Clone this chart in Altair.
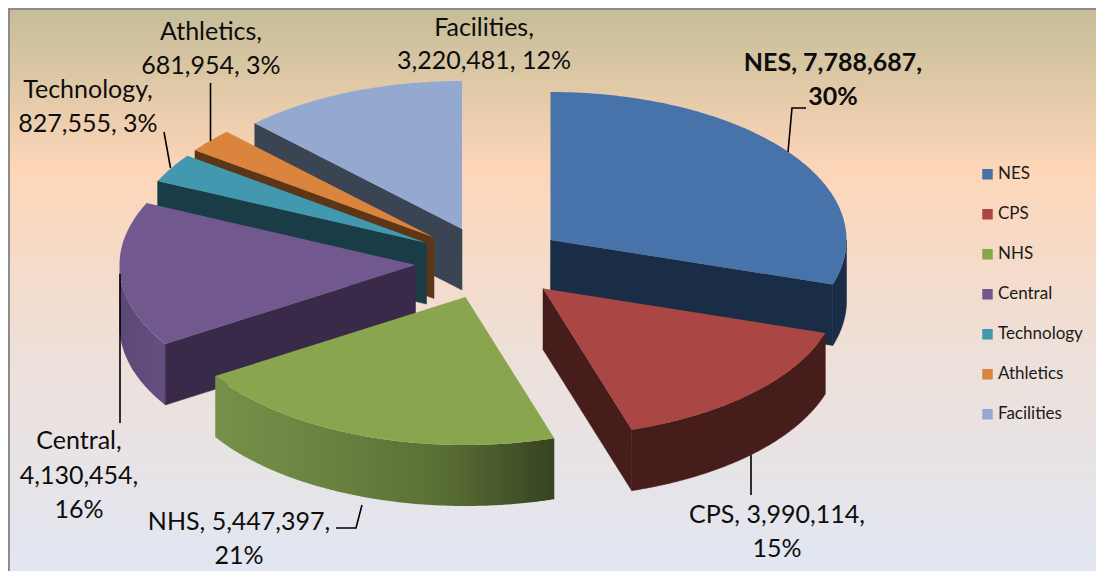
import math
import altair as alt

# ---- data ----
names = ["NES", "CPS", "NHS", "Central", "Technology", "Athletics", "Facilities"]
values = [7788687, 3990114, 5447397, 4130454, 827555, 681954, 3220481]
percents = [30, 15, 21, 16, 3, 3, 12]

# ---- styles ----
top_colors = ["#4773AA", "#AA4644", "#89A54E", "#71588F", "#4198AF", "#DB843D", "#93A9CF"]
wall_colors = ["#1A2D47", "#471D1B", "#5F7538", "#3A2A49", "#1A3C46", "#5C3617", "#3B4453"]
outer_gradients = {
    "NHS": ["#76914A", "#6A8240", "#5A6F35", "#374321"],
    "Central": ["#5C4876", "#65507F"],
}
FONT = "Lato"
OFF = 8  # page margin: layout below is in page pixels

# ---- layout (page pixels) ----
apex = {
    "NES": (550.5, 240), "CPS": (543, 288.5), "NHS": (465.5, 297),
    "Central": (415.5, 265), "Technology": (426.5, 243),
    "Athletics": (434, 237.5), "Facilities": (462, 229),
}
RX, RY, DEPTH = 296, 148, 61
draw_order = ["NES", "Facilities", "Athletics", "Technology", "Central", "NHS", "CPS"]

label_lines = [
    (["Facilities,", "3,220,481, 12%"], 484, [28, 61], False),
    (["Athletics,", "681,954, 3%"], 211, [32, 66], False),
    (["Technology,", "827,555, 3%"], 88, [90, 124], False),
    (["NES, 7,788,687,", "30%"], 833, [63, 97], True),
    (["CPS, 3,990,114,", "15%"], 777, [515, 549], False),
    (["NHS, 5,447,397,", "21%"], 239, [522, 556], False),
    (["Central,", "4,130,454,", "16%"], 79, [441, 476, 510], False),
]
leaders = [
    [(210.5, 83), (210.5, 141)],
    [(164, 132), (170.5, 168)],
    [(806, 108), (792, 108), (788, 152)],
    [(751, 455), (751, 495)],
    [(120, 274), (120, 423)],
    [(336, 528), (356, 528), (362, 505)],
]


def pt(x, y):
    return [x - OFF, y - OFF]


def feature(coords, name="", kind="Polygon"):
    c = [pt(*p) for p in coords]
    if kind == "Polygon":
        c = [c + [c[0]]]
    return {"type": "Feature", "properties": {"name": name},
            "geometry": {"type": kind, "coordinates": c}}


def rim(cx, cy, a, dy=0):
    r = math.radians(a)
    return (cx + RX * math.sin(r), cy - RY * math.cos(r) + dy)


def arc(cx, cy, a0, a1, dy=0):
    n = max(2, int(abs(a1 - a0) * 2))
    return [rim(cx, cy, a0 + (a1 - a0) * i / n, dy) for i in range(n + 1)]


projection = alt.Projection(type="identity", scale=1, translate=[0, 0])
total = sum(values)
color_scale = alt.Scale(domain=names, range=top_colors)
legend = alt.Legend(
    title=None, orient="none", legendX=979 - OFF, legendY=164.5 - OFF, padding=0,
    symbolType="square", symbolSize=110, symbolStrokeWidth=0, symbolOffset=0,
    labelFont=FONT, labelFontSize=17, labelColor="#1a1a1a", labelOffset=2,
    rowPadding=20, clipHeight=19.7, symbolLimit=0,
)

layers = []

# background panel and frame
panel = feature([(8, 4), (1110, 4), (1110, 579), (8, 579)])
layers.append(alt.Chart(alt.Data(values=[panel])).mark_geoshape(
    strokeWidth=0,
    fill={"gradient": "linear", "x1": 0, "y1": 0, "x2": 0, "y2": 1, "stops": [
        {"offset": 0, "color": "#C4BC97"},
        {"offset": 0.29, "color": "#FDD6B8"},
        {"offset": 0.62, "color": "#EDE0DA"},
        {"offset": 1, "color": "#E1E7F3"},
    ]}))
frame = feature([(9, 579), (9, 9), (1110, 9)], kind="LineString")
layers.append(alt.Chart(alt.Data(values=[frame])).mark_geoshape(
    filled=False, stroke="#8C8C8C", strokeWidth=2))

# slices
angles = {}
start = 0.0
for n, v in zip(names, values):
    angles[n] = (start, start + 360.0 * v / total)
    start += 360.0 * v / total

for n in draw_order:
    a0, a1 = angles[n]
    cx, cy = apex[n]
    i = names.index(n)
    wall = wall_colors[i]
    # outer wall, the part turned to the viewer
    lo, hi = max(a0, 90), min(a1, 270)
    if hi > lo:
        poly = arc(cx, cy, lo, hi) + arc(cx, cy, hi, lo, DEPTH)
        grad = outer_gradients.get(n)
        if grad:
            fill = {"gradient": "linear", "x1": 0, "y1": 0, "x2": 1, "y2": 0,
                    "stops": [{"offset": k / (len(grad) - 1), "color": c}
                              for k, c in enumerate(grad)]}
            mark = alt.Chart(alt.Data(values=[feature(poly)])).mark_geoshape(fill=fill, strokeWidth=0)
        else:
            mark = alt.Chart(alt.Data(values=[feature(poly)])).mark_geoshape(
                fill=wall, stroke=wall, strokeWidth=0.5)
        layers.append(mark)
    # radial walls that face the viewer
    for a, sign in ((a0, -90), (a1, 90)):
        if -math.cos(math.radians(a + sign)) > 0.001:
            e = rim(cx, cy, a)
            e2 = (e[0], e[1] + DEPTH)
            quad = [(cx, cy), e, e2, (cx, cy + DEPTH)]
            layers.append(alt.Chart(alt.Data(values=[feature(quad)])).mark_geoshape(
                fill=wall, stroke=wall, strokeWidth=0.5))
    # top face
    top = [(cx, cy)] + arc(cx, cy, a0, a1)
    layers.append(alt.Chart(alt.Data(values=[feature(top, n)])).mark_geoshape(
        strokeWidth=0).encode(
        color=alt.Color("properties.name:N", scale=color_scale, legend=legend)))

# leader lines
layers.append(alt.Chart(alt.Data(values=[feature(l, kind="LineString") for l in leaders])).mark_geoshape(
    filled=False, stroke="#000000", strokeWidth=1.6))

# data labels
rows_regular, rows_bold = [], []
for lines, x, ys, bold in label_lines:
    for t, y in zip(lines, ys):
        (rows_bold if bold else rows_regular).append(
            {"lon": x - OFF, "lat": y - OFF, "t": t})
for rows, weight in ((rows_regular, "normal"), (rows_bold, "bold")):
    layers.append(alt.Chart(alt.Data(values=rows)).mark_text(
        font=FONT, fontSize=25, fontWeight=weight, color="#0d0d0d",
        align="center", baseline="middle").encode(
        longitude="lon:Q", latitude="lat:Q", text="t:N"))

chart = alt.layer(*layers, projection=projection).properties(
    width=1088, height=563, padding=0, autosize=alt.AutoSizeParams(type="none"),
).configure_view(stroke=None)

chart.save("out.html", embed_options={"renderer": "svg", "actions": False})
